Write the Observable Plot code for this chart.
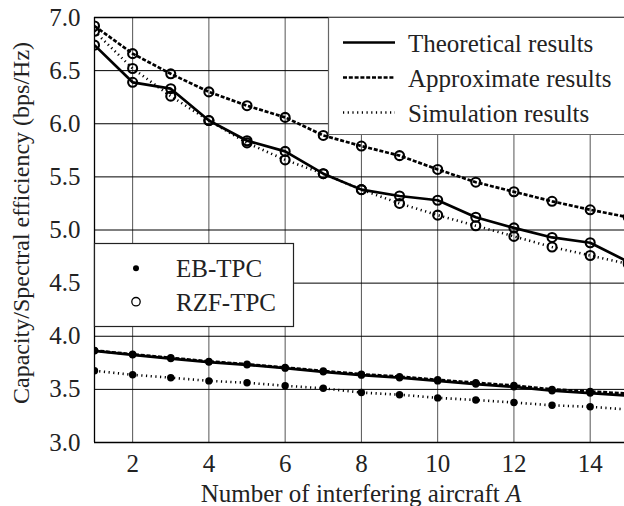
<!DOCTYPE html>
<html><head><meta charset="utf-8">
<script src="https://cdn.jsdelivr.net/npm/d3@7"></script>
<script src="https://cdn.jsdelivr.net/npm/@observablehq/plot@0.6"></script>
<style>
html,body{margin:0;padding:0;background:#fff;overflow:hidden}
#wrap{position:relative;width:624px;height:506px;overflow:hidden}
#wrap svg{display:block}
.ov{position:absolute;left:0;top:0;pointer-events:none}
</style></head><body><div id="wrap"></div>
<script>
// ---- data ----
const aircraft = [1, 2, 3, 4, 5, 6, 7, 8, 9, 10, 11, 12, 13, 14, 15];
const xTicks = [2, 4, 6, 8, 10, 12, 14];
const yTicks = [3.0, 3.5, 4.0, 4.5, 5.0, 5.5, 6.0, 6.5, 7.0];

const rzfTheoretical = [6.74, 6.39, 6.33, 6.03, 5.84, 5.74, 5.53, 5.38, 5.32, 5.28, 5.12, 5.02, 4.93, 4.88, 4.70];
const rzfApproximate = [6.92, 6.66, 6.47, 6.30, 6.17, 6.06, 5.89, 5.79, 5.70, 5.57, 5.45, 5.36, 5.27, 5.19, 5.12];
const rzfSimulation  = [6.87, 6.52, 6.26, 6.03, 5.82, 5.66, 5.53, 5.38, 5.25, 5.14, 5.04, 4.94, 4.84, 4.76, 4.68];

const ebTheoretical = [3.863, 3.825, 3.790, 3.757, 3.731, 3.700, 3.665, 3.634, 3.610, 3.580, 3.550, 3.524, 3.487, 3.465, 3.440];
const ebApproximate = [3.866, 3.830, 3.797, 3.763, 3.737, 3.706, 3.673, 3.643, 3.620, 3.590, 3.562, 3.536, 3.500, 3.480, 3.460];
const ebSimulation  = [3.675, 3.637, 3.610, 3.580, 3.562, 3.534, 3.510, 3.470, 3.450, 3.420, 3.400, 3.376, 3.350, 3.336, 3.310];

const seriesNames = ["Theoretical results", "Approximate results", "Simulation results"];
const schemeNames = ["EB-TPC", "RZF-TPC"];
const xLabelText = "Number of interfering aircraft ";
const xLabelVar = "A";
const yLabelText = "Capacity/Spectral efficiency (bps/Hz)";

// ---- build table ----
const seriesData = {
  "EB-TPC": [ebTheoretical, ebApproximate, ebSimulation],
  "RZF-TPC": [rzfTheoretical, rzfApproximate, rzfSimulation]
};
const rows = [];
for (const scheme of schemeNames) {
  seriesData[scheme].forEach((vals, si) => {
    vals.forEach((v, i) => rows.push({A: aircraft[i], value: v, scheme, series: seriesNames[si]}));
  });
}

const lineStyle = {
  "Theoretical results": {strokeWidth: 2.7, strokeDasharray: null},
  "Approximate results": {strokeWidth: 2.7, strokeDasharray: "4,1.8"},
  "Simulation results": {strokeWidth: 2.6, strokeDasharray: "1.2,3.5"}
};

const FONT = "'Liberation Serif', 'Times New Roman', serif";
const INK = "#222";

const lineMarks = seriesNames.map(name => Plot.line(rows.filter(d => d.series === name), {
  x: "A", y: "value", z: "scheme", stroke: "#000",
  strokeWidth: lineStyle[name].strokeWidth,
  strokeDasharray: lineStyle[name].strokeDasharray,
  strokeLinecap: "butt", strokeLinejoin: "round", clip: true
}));

const chart = Plot.plot({
  width: 624, height: 506,
  marginLeft: 94, marginRight: 0, marginTop: 17, marginBottom: 64,
  style: {fontFamily: FONT, fontSize: "25px", color: INK, background: "#fff", overflow: "visible"},
  x: {domain: [1, 14.9], ticks: xTicks, tickSize: 0, tickPadding: 12, tickFormat: d => String(d), label: null},
  y: {domain: [3, 7], ticks: yTicks, tickSize: 0, tickPadding: 14, tickFormat: d => d.toFixed(1), label: null},
  marks: [
    Plot.gridX(xTicks, {stroke: "#555", strokeOpacity: 1, strokeWidth: 1}),
    Plot.gridY(yTicks.slice(1, -1), {stroke: "#000", strokeOpacity: 1, strokeWidth: 1}),
    Plot.ruleY([yTicks[0]], {stroke: "#000", strokeWidth: 1.3}),
    Plot.ruleY([yTicks[yTicks.length - 1]], {stroke: "#000", strokeWidth: 1.3}),
    Plot.ruleX([aircraft[0]], {stroke: "#000", strokeWidth: 1.3}),
    ...lineMarks,
    Plot.dot(rows.filter(d => d.scheme === "EB-TPC"), {x: "A", y: "value", r: 3.7, fill: "#000", stroke: "none", clip: true}),
    Plot.dot(rows.filter(d => d.scheme === "RZF-TPC"), {x: "A", y: "value", r: 4.5, fill: "none", stroke: "#000", strokeWidth: 2.1, clip: true})
  ]
});

const wrap = document.getElementById("wrap");
wrap.appendChild(chart);

// ---- axis labels ----
const svg = d3.select(chart);
const xl = svg.append("text")
  .attr("x", 361).attr("y", 502)
  .attr("text-anchor", "middle")
  .attr("fill", INK).style("font-family", FONT).style("font-size", "25px");
xl.append("tspan").text(xLabelText);
xl.append("tspan").attr("font-style", "italic").text(xLabelVar);

svg.append("text")
  .attr("transform", "translate(29,223) rotate(-90)")
  .attr("text-anchor", "middle")
  .attr("fill", INK).style("font-family", FONT).style("font-size", "24px")
  .text(yLabelText);

// ---- legends (overlay) ----
const ov = d3.select(wrap).append("svg").attr("class", "ov")
  .attr("width", 624).attr("height", 506);

// series legend (top right)
const lg1 = ov.append("g");
lg1.append("rect").attr("x", 328.5).attr("y", 17.7).attr("width", 300).attr("height", 117).attr("fill", "#fff");
lg1.append("path").attr("d", "M328.5,17.7V134.5H630").attr("fill", "none").attr("stroke", "#666").attr("stroke-width", 1.2);
seriesNames.forEach((name, i) => {
  const cy = 42.5 + i * 35;
  lg1.append("line").attr("x1", 343).attr("x2", 395).attr("y1", cy).attr("y2", cy)
    .attr("stroke", "#000").attr("stroke-width", lineStyle[name].strokeWidth)
    .attr("stroke-dasharray", lineStyle[name].strokeDasharray);
  lg1.append("text").attr("x", 408).attr("y", cy + 9)
    .attr("fill", INK).style("font-family", FONT).style("font-size", "25px").text(name);
});

// scheme legend (left)
const lg2 = ov.append("g");
lg2.append("rect").attr("x", 94.5).attr("y", 243.5).attr("width", 199).attr("height", 83)
  .attr("fill", "#fff").attr("stroke", "#222").attr("stroke-width", 1.2);
schemeNames.forEach((name, i) => {
  const cy = 268.3 + i * 33.4;
  if (i === 0) lg2.append("circle").attr("cx", 136).attr("cy", cy).attr("r", 3).attr("fill", "#000");
  else lg2.append("circle").attr("cx", 136).attr("cy", cy).attr("r", 4.2).attr("fill", "none").attr("stroke", "#000").attr("stroke-width", 1.3);
  lg2.append("text").attr("x", 176).attr("y", cy + 8.8)
    .attr("fill", INK).style("font-family", FONT).style("font-size", "25px").text(name);
});
</script></body></html>
